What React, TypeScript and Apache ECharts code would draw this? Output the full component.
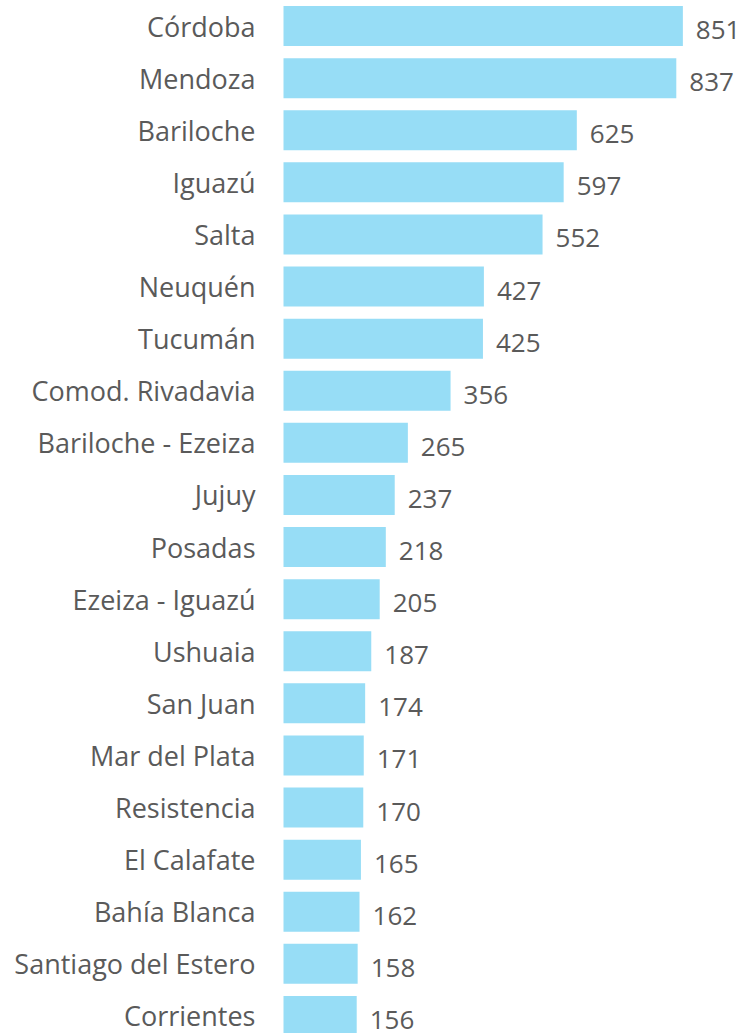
import React, { useEffect, useRef } from "react";
import * as echarts from "echarts";

const categories = [
  "Córdoba",
  "Mendoza",
  "Bariloche",
  "Iguazú",
  "Salta",
  "Neuquén",
  "Tucumán",
  "Comod. Rivadavia",
  "Bariloche - Ezeiza",
  "Jujuy",
  "Posadas",
  "Ezeiza - Iguazú",
  "Ushuaia",
  "San Juan",
  "Mar del Plata",
  "Resistencia",
  "El Calafate",
  "Bahía Blanca",
  "Santiago del Estero",
  "Corrientes",
];

const values = [851, 837, 625, 597, 552, 427, 425, 356, 265, 237, 218, 205, 187, 174, 171, 170, 165, 162, 158, 156];

export default function App() {
  const ref = useRef<HTMLDivElement>(null);
  useEffect(() => {
    if (!ref.current) return;
    const chart = echarts.init(ref.current, null, { renderer: "svg" });
    const font = "'Open Sans', 'Noto Sans', sans-serif";
    chart.setOption({
      animation: false,
      grid: {
        left: 283.5,
        top: 0,
        width: 469.3,
        height: 1042,
        containLabel: false,
        outerBoundsMode: "none",
      },
      xAxis: {
        type: "value",
        min: 0,
        max: 1000,
        show: false,
      },
      yAxis: {
        type: "category",
        data: categories,
        inverse: true,
        axisLine: { show: false },
        axisTick: { show: false },
        splitLine: { show: false },
        axisLabel: {
          color: "#5a5a5a",
          fontSize: 27,
          fontFamily: font,
          margin: 28,
        },
      },
      series: [
        {
          type: "bar",
          data: values,
          barWidth: 40,
          itemStyle: { color: "#97DDF6" },
          label: {
            show: true,
            position: "right",
            distance: 13,
            color: "#5a5a5a",
            fontSize: 26,
            fontFamily: font,
            offset: [0, 3],
          },
        },
      ],
    });
    return () => chart.dispose();
  }, []);
  return (
    <div
      ref={ref}
      style={{ position: "absolute", left: 0, top: 0, width: 745, height: 1043, background: "#fff" }}
    />
  );
}
